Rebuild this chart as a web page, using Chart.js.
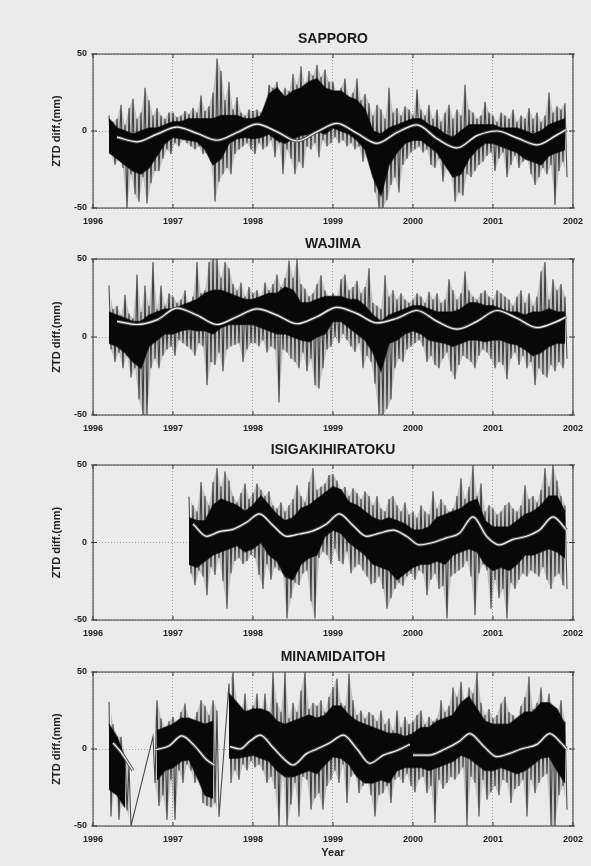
<!DOCTYPE html>
<html>
<head>
<meta charset="utf-8">
<script src="https://cdn.jsdelivr.net/npm/chart.js@4.4.1/dist/chart.umd.min.js"></script>
<style>
  body { margin: 0; background: #ebebeb; width: 591px; height: 866px; position: relative; overflow: hidden; }
  canvas { position: absolute; left: 0; }
</style>
</head>
<body>
<canvas id="c1" width="591" height="204" style="top:26px"></canvas>
<canvas id="c2" width="591" height="206" style="top:231px"></canvas>
<canvas id="c3" width="591" height="205" style="top:437px"></canvas>
<canvas id="c4" width="591" height="218" style="top:644px"></canvas>
<script>
// tick labels
const YEARS = [1996, 1997, 1998, 1999, 2000, 2001, 2002];
const Y_TICKS = [-50, 0, 50];

// sampling of the noisy traces (years)
const STEP = 0.05;       // spike envelope
const CORE_STEP = 0.1;   // dense core band

// ---- SAPPORO ----
const sapStart = 1996.2;
const sapHi = [10, 6, 8, 17, 4, 15,
  21, 8, 12, 28, 20, 10, 15, 10, 8, 12,
  12, 9, 10, 13, 11, 15, 12, 23, 13, 16,
  25, 47, 39, 20, 32, 14, 22, 12, 10, 14,
  13, 14, 12, 16, 30, 28, 32, 24, 28, 26,
  37, 30, 42, 30, 39, 36, 43, 35, 40, 32,
  32, 24, 28, 34, 22, 25, 34, 20, 24, 18,
  10, 17, 14, 8, 28, 12, 15, 10, 16, 14,
  10, 27, 14, 10, 17, 8, 14, 6, 12, 17,
  8, 14, 10, 30, 14, 12, 8, 10, 19, 12,
  10, 6, 12, 10, 8, 14, 6, 10, 8, 15,
  8, 12, 6, 10, 25, 12, 16, 14, 18];
const sapLo = [-15, -22, -18, -24, -50, -28,
  -41, -46, -30, -47, -34, -26, -26, -18, -12, -15,
  -8, -10, -6, -8, -10, -12, -10, -15, -14, -20,
  -46, -33, -28, -24, -28, -15, -12, -10, -8, -12,
  -15, -8, -12, -10, -6, -17, -8, -28, -12, -18,
  -28, -20, -24, -10, -12, -8, -17, -6, -10, -8,
  -4, -8, -6, -10, -8, -12, -10, -20, -14, -16,
  -40, -50, -50, -45, -35, -30, -40, -22, -18, -14,
  -12, -10, -14, -12, -22, -24, -18, -33, -24, -28,
  -46, -40, -42, -28, -30, -26, -22, -20, -16, -14,
  -26, -18, -14, -30, -22, -16, -24, -20, -18, -28,
  -35, -30, -24, -28, -22, -48, -26, -20, -30];
const sapCoreHi = [8, 2, 0, -2, 0, 2, 2, 4,
  6, 6, 8, 8, 8, 8, 10, 10, 10, 8,
  8, 10, 24, 28, 22, 26, 28, 32, 34, 28,
  26, 26, 22, 20, 14, 0, -2, 2, 4, 6,
  8, 8, 4, 2, -2, -4, 0, 4, 4, 4,
  4, 2, 2, 2, 0, -2, 0, 4, 6, 8];
const sapCoreLo = [-14, -18, -22, -26, -28, -24, -16, -8,
  -4, -5, -6, -7, -12, -22, -18, -8, -5, -4,
  -5, -4, -2, -6, -8, -5, -3, -2, 0, -2,
  2, 0, -2, -6, -12, -30, -42, -22, -14, -8,
  -6, -6, -10, -14, -22, -30, -28, -18, -12, -8,
  -8, -10, -12, -14, -18, -20, -22, -16, -14, -12];
const sapFitT = [1996.30, 1996.55, 1996.80, 1997.05, 1997.30, 1997.55, 1997.80, 1998.05, 1998.30, 1998.55, 1998.80, 1999.05,
  1999.30, 1999.55, 1999.80, 2000.05, 2000.30, 2000.55, 2000.80, 2001.05, 2001.30, 2001.55, 2001.80, 2001.92];
const sapFitV = [-4, -7, -2, 2.5, -1.5, -6, -1, 4.5, -0.5, -6.5, -0.5, 5,
  -1.5, -8, -1, 4, -5, -11, -3, 0, -4.5, -9, -2.5, 1];

// ---- WAJIMA ----
const wajStart = 1996.2;
const wajHi = [33, 18, 20, 14, 27, 15,
  12, 40, 16, 33, 20, 48, 18, 33, 20, 28,
  26, 22, 24, 30, 20, 26, 48, 28, 30, 48,
  50, 50, 38, 48, 44, 34, 30, 35, 26, 32,
  28, 30, 26, 35, 30, 34, 40, 32, 38, 49,
  38, 50, 34, 31, 26, 28, 34, 39.5, 30, 26,
  28, 26, 37, 40, 30, 32, 36, 28, 32, 44,
  22, 20, 18, 39.5, 26, 30, 24, 28, 24, 22,
  24, 28, 26, 22, 29, 24, 28, 22, 24, 37,
  30, 24, 28, 42, 30, 26, 24, 28, 30, 26,
  24, 30, 28, 26, 24, 20, 26, 30, 22, 28,
  20, 26, 42, 48, 24, 37, 30, 34, 26];
const wajLo = [-8, -16, -10, -20, -12, -26,
  -20, -40, -50, -50, -20, -14, -20, -12, -8, -6,
  -12, -2, -4, -6, -8, -12, -4, -6, -31, -16,
  -18, -10, -22, -8, -6, -5, -4, -16, -8, -4,
  -4, -6, -2, -10, -6, -8, -42, -8, -10, -14,
  -16, -20, -10, -22, -14, -31, -33, -20, -8, -6,
  0, -4, 2, -2, -6, -9.6, -4, -20, -12, -16,
  -30, -50, -50, -46, -40, -20, -14, -16, -8, -6,
  -4, -2, -6, -16, -12, -18, -20, -14, -10, -22,
  -27, -18, -12, -14, -16, -20, -12, -8, -10, -14,
  -20, -16, -18, -27, -14, -10, -18, -12, -20, -16,
  -31, -20, -24, -26, -18, -22, -16, -20, -14];
const wajCoreHi = [16, 14, 12, 10, 10, 14, 16, 18,
  18, 20, 22, 24, 28, 30, 30, 28, 26, 24,
  24, 26, 28, 28, 32, 30, 22, 22, 24, 26,
  26, 26, 24, 24, 20, 14, 10, 14, 16, 18,
  20, 20, 18, 16, 16, 16, 18, 22, 22, 20,
  20, 18, 16, 16, 14, 16, 16, 18, 16, 16];
const wajCoreLo = [-4, -6, -10, -16, -20, -6, -2, 2,
  2, 4, 5, 4, 4, 2, 6, 8, 8, 8,
  8, 6, 4, 2, 2, 0, -2, -3, 0, 2,
  10, 10, 6, 2, -2, -10, -22, -4, -2, 2,
  4, 2, -2, -3, -4, -6, -4, -2, -2, -3,
  -2, -2, -4, -5, -8, -12, -10, -6, -4, -4];
const wajFitT = sapFitT;
const wajFitV = [10, 8, 11, 18.5, 14, 8, 13, 18, 14, 8.5, 13, 19,
  15, 9, 12, 17, 10, 5, 10, 17, 12, 6, 10, 13];

// ---- ISIGAKIHIRATOKU ----
const isiStart = 1997.2;
const isiHi = [29.6, 24, 20, 39, 30, 24,
  39, 48, 36, 45.8, 40, 30, 26, 32, 38, 28,
  32, 38, 34, 30, 33, 24, 22, 26, 20, 24,
  28, 37, 30, 26, 39, 48, 34, 36, 38, 43.6,
  44, 40, 34, 36, 30, 35, 32, 28, 33, 30,
  24, 30, 22, 20, 28, 30, 24, 20, 26, 18,
  20, 16, 24, 20, 18, 33, 22, 28, 24, 20,
  22, 30, 41.5, 28, 36, 50, 30, 38, 20, 24,
  22, 18, 20, 24, 26, 22, 20, 24, 37, 28,
  30, 26, 34, 48, 36, 50, 40, 30, 24];
const isiLo = [-20, -27.6, -18, -22, -34, -16,
  -21, -10, -25, -42.8, -20, -12, -10, -14, -12, -8,
  -10, -21, -30, -14, -24, -16, -18, -20, -49, -36,
  -26, -27.6, -20, -18, -38, -49, -10, -6, -8, -14,
  -4, -12, -14, -6, -20, -16, -14, -18, -22, -27,
  -26, -22, -30, -42.8, -36, -30, -26, -28, -22, -20,
  -24, -18, -20, -34, -24, -20, -30, -28, -49, -22,
  -20, -18, -16, -12, -22, -47, -20, -14, -18, -42.8,
  -24, -36, -30, -49, -26, -30, -24, -20, -22, -18,
  -20, -22, -16, -24, -30, -22, -20, -27.6, -30];
const isiCoreHi = [16, 14, 14, 24, 28, 26, 24, 20,
  24, 30, 24, 18, 14, 16, 22, 24, 28, 32,
  36, 34, 26, 24, 20, 16, 14, 16, 14, 12,
  8, 8, 10, 16, 18, 20, 22, 26, 28, 14,
  10, 10, 10, 14, 18, 20, 24, 30, 30, 20];
const isiCoreLo = [-14, -16, -12, -8, -6, -4, -2, -6,
  -4, 0, -8, -12, -22, -24, -14, -10, -8, 4,
  8, 6, 0, -4, -8, -14, -16, -18, -24, -20,
  -16, -14, -14, -12, -14, -8, -6, -4, -6, -14,
  -18, -16, -18, -14, -8, -8, -6, -4, -6, -10];
const isiFitT = [1997.25, 1997.42, 1997.58, 1997.75, 1997.92, 1998.08, 1998.25, 1998.42, 1998.58, 1998.75,
  1998.92, 1999.08, 1999.25, 1999.42, 1999.58, 1999.75, 1999.92, 2000.08, 2000.25, 2000.42,
  2000.58, 2000.75, 2000.92, 2001.08, 2001.25, 2001.42, 2001.58, 2001.75, 2001.92];
const isiFitV = [12, 4, 7, 8.5, 13, 18.5, 11, 4, 5.5, 7.5,
  12, 18.5, 11, 4, 6, 8, 4, -1.5, 0, 3,
  6, 16.5, 4, -1.5, 2, 4, 8, 16.5, 8];

// ---- MINAMIDAITOH ----
const minStart = 1996.2;
const minHi = [30.7, 16, 8, 8, -4, -11,
  null, null, null, null, null, 8, 31.7, 20, 14, 18,
  21, 16, 24, 29.6, 20, 18, 24, 31.7, 28, 22,
  31.7, 25, null, null, 42.5, 50, 30, 24, 36, 22,
  28, 36, 24, 36, 22, 50, 30, 24, 50, 20,
  30, 24, 38, 50, 26, 30, 28, 31.7, 24, 34,
  40, 45.8, 30, 28, 49, 31.7, 22, 25, 20, 24,
  22, 18, 25, 16, 20, 12, 25, 14, 21, 16,
  18, 22, 25, 16, 21, 18, 20, 31.7, 24, 28,
  40, 34, 43.6, 30, 40, 36, 50, 30, 22, 26,
  20, 22, 29.6, 34, 24, 22, 20, 28, 34, 47,
  26, 30, 40, 28, 36, 26, 24, 31.7, 18];
const minLo = [-43.8, -24, -46, -32, -40, -50,
  null, null, null, null, null, -22, -37, -30, -46, -20,
  -46, -14, -22, -10, -14, -22, -18, -35, -37, -38,
  -35, -44, null, null, -22, -14, -20, -10, -14, -8,
  -12, -10, -14, -22, -18, -26, -50, -16, -50, -36,
  -22, -43.8, -18, -20, -39.5, -32, -28.7, -39.5, -24, -20,
  -14, -22, -10, -35, -18, -16, -28.7, -24, -20, -30,
  -43.8, -30, -28.7, -24, -35, -20, -18, -22, -16, -24,
  -28, -20, -18, -28.7, -24, -48, -20, -26, -22, -18,
  -20, -16, -12, -50, -18, -22, -43.8, -20, -33, -28,
  -24, -30, -20, -22, -35, -26, -24, -20, -43.8, -20,
  -28.7, -22, -18, -16, -50, -50, -30, -24, -39.5];
const minCoreHi = [16, 8, -6, null, null, null, 12, 14,
  16, 20, 20, 18, 16, 18, null, 36, 30, 24,
  26, 26, 24, 18, 16, 18, 20, 22, 20, 22,
  28, 28, 22, 18, 16, 14, 12, 10, 10, 8,
  10, 14, 14, 18, 20, 22, 30, 34, 26, 18,
  16, 16, 16, 20, 24, 24, 30, 30, 26, 16];
const minCoreLo = [-26, -30, -38, null, null, null, -20, -14,
  -12, -8, -7, -18, -30, -32, null, -6, -6, -5,
  -4, -6, -8, -14, -18, -18, -16, -14, -16, -10,
  -5, -6, -10, -18, -22, -22, -20, -22, -14, -12,
  -12, -12, -14, -12, -10, -8, -4, -6, -10, -14,
  -14, -12, -14, -16, -14, -10, -6, -5, -14, -22];
const minFitT = [1996.25, 1996.35, 1996.45, 1996.50, 1996.60, 1996.78, 1996.95, 1997.11, 1997.27, 1997.42,
  1997.52, 1997.60, 1997.71, 1997.84, 1997.96, 1998.09, 1998.25, 1998.42, 1998.50, 1998.67,
  1998.80, 1998.96, 1999.13, 1999.30, 1999.46, 1999.63, 1999.80, 1999.96, 1999.98, 2000.00,
  2000.20, 2000.40, 2000.58, 2000.71, 2000.88, 2001.05, 2001.20, 2001.35, 2001.55, 2001.71,
  2001.85, 2001.92];
const minFitV = [4, -2, -10, -14, null, -0.5, 2, 8.5, 2, -7,
  -10.5, null, 1.5, 0, 5, 9, 1, -8, -10.4, -3,
  0, 4, 9, 0, -9.3, -4, -1, 3, null, -4,
  -4, 0, 5, 10, 2, -5, -3, 0, 3, 10,
  4, 0];

const FONT = '"Liberation Sans", Arial, sans-serif';

function steps(t0, step, vals) {
  return vals.map((v, i) => ({ x: +(t0 + i * step).toFixed(3), y: v }));
}
function pairs(ts, vs) {
  return ts.map((t, i) => ({ x: t, y: vs[i] }));
}
// each sample becomes a down-stroke from its high to its low value
function zigzag(t0, hi, lo) {
  const pts = [];
  hi.forEach((h, i) => {
    const t = t0 + i * STEP;
    pts.push({ x: +t.toFixed(3), y: h });
    pts.push({ x: +(t + STEP / 2).toFixed(3), y: lo[i] });
  });
  return pts;
}

const frame = {
  id: 'frame',
  afterDatasetsDraw(chart) {
    const { ctx, chartArea: a, scales: { x, y } } = chart;
    ctx.save();
    ctx.strokeStyle = '#3a3a3a';
    ctx.lineWidth = 1;
    ctx.strokeRect(a.left, a.top, a.right - a.left, a.bottom - a.top);
    ctx.beginPath();
    YEARS.forEach(v => {
      const px = x.getPixelForValue(v);
      ctx.moveTo(px, a.bottom); ctx.lineTo(px, a.bottom - 4);
      ctx.moveTo(px, a.top); ctx.lineTo(px, a.top + 4);
    });
    Y_TICKS.forEach(v => {
      const py = y.getPixelForValue(v);
      ctx.moveTo(a.left - 2, py); ctx.lineTo(a.left + 4, py);
      ctx.moveTo(a.right + 2, py); ctx.lineTo(a.right - 4, py);
    });
    ctx.stroke();
    ctx.restore();
  }
};

const panels = [
  { id: 'c1', title: 'SAPPORO', t0: sapStart, hi: sapHi, lo: sapLo, coreHi: sapCoreHi, coreLo: sapCoreLo, fitT: sapFitT, fitV: sapFitV, xH: 22 },
  { id: 'c2', title: 'WAJIMA', t0: wajStart, hi: wajHi, lo: wajLo, coreHi: wajCoreHi, coreLo: wajCoreLo, fitT: wajFitT, fitV: wajFitV, xH: 22 },
  { id: 'c3', title: 'ISIGAKIHIRATOKU', t0: isiStart, hi: isiHi, lo: isiLo, coreHi: isiCoreHi, coreLo: isiCoreLo, fitT: isiFitT, fitV: isiFitV, xH: 22 },
  { id: 'c4', title: 'MINAMIDAITOH', t0: minStart, hi: minHi, lo: minLo, coreHi: minCoreHi, coreLo: minCoreLo, fitT: minFitT, fitV: minFitV, xH: 36, xTitle: 'Year' }
];

panels.forEach(p => {
  new Chart(document.getElementById(p.id), {
    type: 'line',
    data: {
      datasets: [
        { data: pairs(p.fitT, p.fitV), borderColor: '#f4f4f4', borderWidth: 1.2, cubicInterpolationMode: 'monotone' },
        { data: pairs(p.fitT, p.fitV), borderColor: '#555555', borderWidth: 3.2, cubicInterpolationMode: 'monotone' },
        { data: steps(p.t0, CORE_STEP, p.coreHi), borderWidth: 1.5, borderColor: 'rgba(0,0,0,0.6)', backgroundColor: '#080808', fill: '+1' },
        { data: steps(p.t0, CORE_STEP, p.coreLo), borderWidth: 1.5, borderColor: 'rgba(0,0,0,0.6)', fill: false },
        { data: zigzag(p.t0, p.hi, p.lo), borderColor: 'rgba(15,15,15,0.72)', borderWidth: 1.1, spanGaps: true },
        { data: steps(p.t0, STEP, p.hi), borderWidth: 0, borderColor: 'rgba(0,0,0,0)', backgroundColor: 'rgba(40,40,40,0.22)', fill: '+1' },
        { data: steps(p.t0 + STEP / 2, STEP, p.lo), borderWidth: 0, borderColor: 'rgba(0,0,0,0)', fill: false }
      ]
    },
    options: {
      responsive: false,
      animation: false,
      events: [],
      layout: { padding: { left: 0, right: 18, top: 0, bottom: 0 } },
      elements: { point: { radius: 0 }, line: { tension: 0 } },
      plugins: {
        legend: { display: false },
        tooltip: { enabled: false },
        title: {
          display: true, text: p.title, fullSize: false, color: '#1c1c1c',
          font: { family: FONT, size: 14, weight: 'bold' },
          padding: { top: 5, bottom: 6.2 }
        }
      },
      scales: {
        x: {
          type: 'linear', min: 1996, max: 2002,
          afterBuildTicks: s => { s.ticks = YEARS.map(v => ({ value: v })); },
          afterFit: s => { s.height = p.xH; },
          grid: { color: '#8c8c8c', lineWidth: 0.8, drawTicks: false },
          border: { display: false, dash: [1, 2] },
          ticks: { padding: 8, color: '#222', font: { family: FONT, size: 9, weight: 'bold' }, callback: v => String(v) },
          title: { display: !!p.xTitle, text: p.xTitle || '', color: '#222', font: { family: FONT, size: 11, weight: 'bold' }, padding: { top: 0, bottom: 2.5 } }
        },
        y: {
          min: -50, max: 50,
          afterBuildTicks: s => { s.ticks = Y_TICKS.map(v => ({ value: v })); },
          afterFit: s => { s.width = 93; },
          grid: { color: '#8c8c8c', lineWidth: 0.8, drawTicks: false },
          border: { display: false, dash: [1, 2] },
          ticks: { padding: 6, color: '#222', font: { family: FONT, size: 9, weight: 'bold' } },
          title: { display: true, text: 'ZTD diff.(mm)', color: '#222', font: { family: FONT, size: 11, weight: 'bold' }, padding: { top: 50.4, bottom: 0 } }
        }
      }
    },
    plugins: [frame]
  });
});
</script>
</body>
</html>
